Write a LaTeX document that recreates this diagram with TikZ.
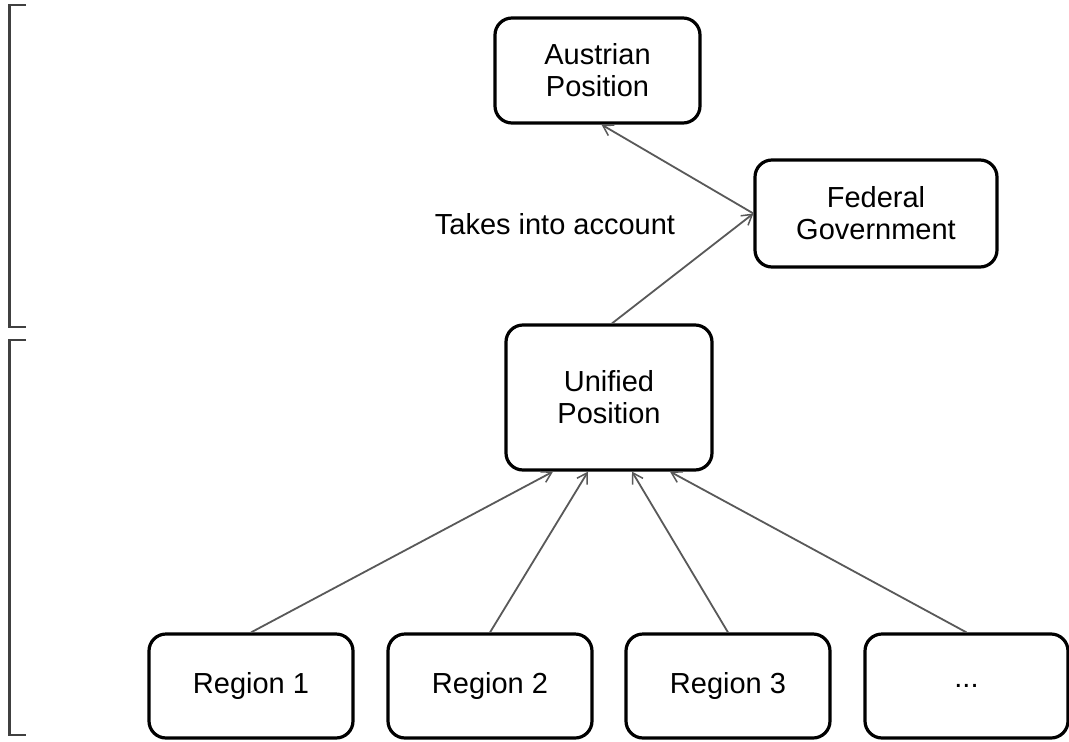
\documentclass[tikz,border=0pt]{standalone}
\usepackage{fontspec}
\setmainfont{Liberation Sans}
\usetikzlibrary{arrows.meta}
\begin{document}
\begin{tikzpicture}[x=1pt,y=-1pt,
  box/.style={draw=black, line width=3.2pt, rounded corners=17pt, fill=white,
    align=center, inner sep=0pt, font=\fontsize{29}{32}\selectfont},
  link/.style={draw=black!65, line width=1.8pt,
    -{Straight Barb[length=10pt,width=12pt,line width=1.5pt]}},
  brk/.style={draw=black!75, line width=2.6pt}]
\useasboundingbox (0,0) rectangle (1069,742);
\fill[white] (0,0) rectangle (1069,742);
% brackets
\draw[brk] (26,5) -- (9.5,5) -- (9.5,327) -- (26,327);
\draw[brk] (26,340) -- (9.5,340) -- (9.5,735) -- (26,735);
% nodes
\node[box, minimum width=205pt, minimum height=105pt] (aus) at (597.5,70.5) {Austrian\\Position};
\node[box, minimum width=242pt, minimum height=107pt] (fed) at (876,213.5) {Federal\\Government};
\node[box, minimum width=206pt, minimum height=145pt] (uni) at (609,397.5) {Unified\\Position};
\node[box, minimum width=204pt, minimum height=104pt] (r1) at (251,686) {Region 1};
\node[box, minimum width=204pt, minimum height=104pt] (r2) at (490,686) {Region 2};
\node[box, minimum width=204pt, minimum height=104pt] (r3) at (728,686) {Region 3};
\node[box, minimum width=203pt, minimum height=104pt] (r4) at (966.5,686) {...};
\node[font=\fontsize{29}{32}\selectfont, inner sep=0pt] (lbl) at (555,224) {Takes into account};
% connectors
\draw[link] (fed.west) -- ([xshift=4pt]aus.south);
\draw[link] ([xshift=3pt]uni.north) -- (fed.west);
\draw[link] (r1.north) -- ([xshift=-56pt]uni.south);
\draw[link] (r2.north) -- ([xshift=-21pt]uni.south);
\draw[link] (r3.north) -- ([xshift=23pt]uni.south);
\draw[link] (r4.north) -- ([xshift=61pt]uni.south);
\end{tikzpicture}
\end{document}
